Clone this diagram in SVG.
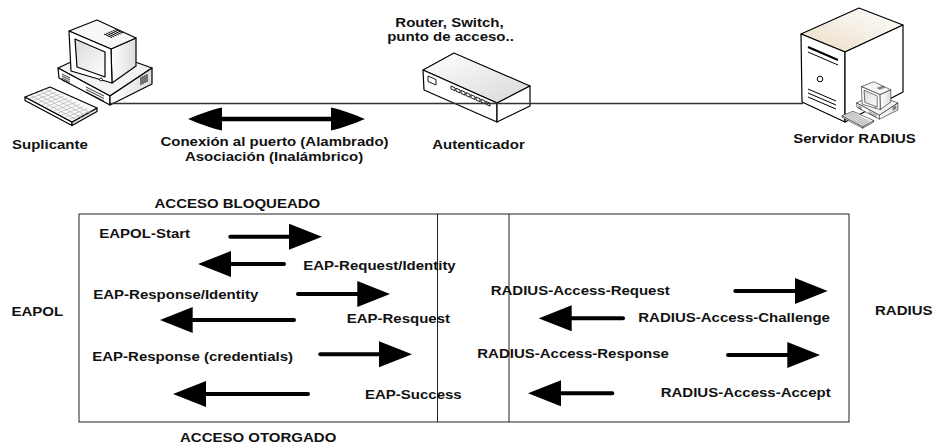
<svg xmlns="http://www.w3.org/2000/svg" width="934" height="445" viewBox="0 0 934 445">
<style>
.lbl{font-family:"Liberation Sans",Arial,Helvetica,sans-serif;font-weight:bold;font-size:12.5px;fill:#111}
.c{text-anchor:middle}
.ink{stroke:#000;stroke-width:1.2;stroke-linejoin:round}
.thin{stroke:#000;stroke-width:0.8;fill:none}
.msg{stroke:#000;stroke-width:4;stroke-linecap:round;fill:none;marker-end:url(#head)}
.frame{fill:none;stroke:#222;stroke-width:1}
.wire{stroke:#333;stroke-width:1.4;fill:none}
</style>
<defs>
  <marker id="head" markerUnits="userSpaceOnUse" markerWidth="33" markerHeight="26" viewBox="0 0 33 26" refX="1" refY="13" orient="auto">
    <path d="M0,0 L33,13 L0,26 Z" fill="#000"/>
  </marker>
  <marker id="ogive" markerUnits="userSpaceOnUse" markerWidth="34" markerHeight="24" viewBox="0 0 34 24" refX="1" refY="12" orient="auto-start-reverse">
    <path d="M0,0.5 C12,3 24,8 34,12 C24,16 12,21 0,23.5 Z" fill="#000"/>
  </marker>
  <linearGradient id="gScreen" x1="0" y1="0" x2="1" y2="1">
    <stop offset="0" stop-color="#d9d9d9"/><stop offset="1" stop-color="#ffffff"/>
  </linearGradient>
  <linearGradient id="gSide" x1="0" y1="0" x2="1" y2="0">
    <stop offset="0" stop-color="#ffffff"/><stop offset="1" stop-color="#dcdcdc"/>
  </linearGradient>
  <linearGradient id="gTop" x1="0" y1="0" x2="1" y2="1">
    <stop offset="0" stop-color="#ffffff"/><stop offset="1" stop-color="#d8d8d8"/>
  </linearGradient>
  <linearGradient id="gBeige" x1="0" y1="1" x2="1" y2="0">
    <stop offset="0" stop-color="#eadcc4"/><stop offset="1" stop-color="#ffffff"/>
  </linearGradient>

  <!-- desktop computer: keyboard, case, CRT monitor -->
  <g id="pc-shape">
    <!-- keyboard -->
    <polygon class="ink" fill="#fff" points="25,97 72,122 72,125.5 25,100.5"/>
    <polygon class="ink" fill="#e4e4e4" points="72,122 97,108 97,111.5 72,125.5"/>
    <polygon class="ink" fill="#fafafa" points="25,97 50,87 97,108 72,122"/>
    <g transform="matrix(3.917,2.083,5,-2,25,97)">
      <path d="M1,0.3V4.7M2,0.3V4.7M3,0.3V4.7M4,0.3V4.7M5,0.3V4.7M6,0.3V4.7M7,0.3V4.7M8,0.3V4.7M9,0.3V4.7M10,0.3V4.7M11,0.3V4.7M0.3,1H11.7M0.3,2H11.7M0.3,3H11.7M0.3,4H11.7" stroke="#b0b0b0" stroke-width="0.7" fill="none" vector-effect="non-scaling-stroke"/>
    </g>
    <!-- system case -->
    <polygon class="ink" fill="#f2f2f2" points="58,68 99,49 152,68 110,96"/>
    <polygon class="ink" fill="#fff" points="58,68 110,96 110,105 59,78"/>
    <polygon class="ink" fill="url(#gSide)" points="110,96 152,68 152,84 110,105"/>
    <path class="thin" d="M62,74l8,4M62,76l8,4M62,78l8,4M62,80l8,4M86,87l18,9M86,89.5l18,9M86,92l18,9"/>
    <path d="M141,77v8M143,76v8M145,75v8M147,74v8" stroke="#000" stroke-width="1"/>
    <!-- monitor -->
    <polygon class="ink" fill="url(#gSide)" points="111,49 136,38 136,66 112,83"/>
    <polygon class="ink" fill="#f7f7f7" points="69,31 97,20 136,38 111,49"/>
    <path d="M104,34l8,3.6M106.2,33.1l8,3.6M108.4,32.2l8,3.6M110.6,31.3l8,3.6M112.8,30.4l8,3.6M115,29.5l8,3.6" stroke="#000" stroke-width="1"/>
    <polygon class="ink" fill="#fff" points="69,31 111,49 112,83 71,71"/>
    <polygon class="ink" fill="url(#gScreen)" stroke-width="1.5" points="75,39 105,52 105,77 77,67"/>
    <circle cx="101" cy="79.5" r="1.4" fill="#fff" stroke="#000" stroke-width="0.8"/>
  </g>
</defs>

<rect width="934" height="445" fill="#fff"/>

<!-- supplicant workstation -->
<g id="suplicante">
  <use href="#pc-shape"/>
  <text class="lbl" transform="translate(12,149) scale(1.2,1)">Suplicante</text>
</g>

<!-- authenticator: switch / access point -->
<g id="autenticador">
  <polygon class="ink" fill="url(#gTop)" points="423,70 454,53 530,86 497,103"/>
  <polygon class="ink" fill="#fff" points="423,70 497,103 497,122 424,90"/>
  <polygon class="ink" fill="#fff" points="497,103 530,86 530,106 497,122"/>
  <polygon fill="#fff" stroke="#000" stroke-width="0.9" points="428,76 436,79.5 436,85 428,81.5"/>
  <g transform="translate(451,86) skewY(23.7)" fill="#fff" stroke="#000" stroke-width="0.8">
    <rect x="0" y="0" width="4" height="3"/><rect x="5" y="0" width="4" height="3"/>
    <rect x="10" y="0" width="4" height="3"/><rect x="15" y="0" width="4" height="3"/>
    <rect x="20" y="0" width="4" height="3"/><rect x="25" y="0" width="4" height="3"/>
    <rect x="30" y="0" width="4" height="3"/><rect x="35" y="0" width="4" height="3"/>
  </g>
  <text class="lbl c" transform="translate(449.5,27) scale(1.2,1)">Router, Switch,</text>
  <text class="lbl c" transform="translate(450.5,40.5) scale(1.2,1)">punto de acceso..</text>
  <text class="lbl c" transform="translate(478.5,148.5) scale(1.2,1)">Autenticador</text>
</g>

<!-- RADIUS server tower with its console -->
<g id="servidor-radius">
  <polygon class="ink" fill="url(#gBeige)" points="801,34 859,8 903,25 845,52"/>
  <polygon class="ink" fill="#fff" points="801,34 845,52 845,122 802,102"/>
  <polygon class="ink" fill="#fff" points="845,52 903,25 903,92 845,122"/>
  <path d="M808,47l30,13" stroke="#000" stroke-width="2"/>
  <path d="M808,52l30,13" stroke="#000" stroke-width="1"/>
  <circle cx="820" cy="79" r="2.8" fill="#fff" stroke="#000" stroke-width="1"/>
  <path d="M808,89l28,12M808,93l28,12M808,97l28,12" stroke="#000" stroke-width="1"/>
  <use href="#pc-shape" transform="translate(831,73) scale(0.44)"/>
  <text class="lbl c" transform="translate(854.5,142.5) scale(1.2,1)">Servidor RADIUS</text>
</g>

<!-- message exchange frame -->
<g id="secuencia">
  <rect class="frame" x="79" y="214" width="770" height="208"/>
  <line class="frame" x1="437.5" y1="214" x2="437.5" y2="422"/>
  <line class="frame" x1="509" y1="214" x2="509" y2="422"/>
  <text class="lbl" transform="translate(154.5,207.5) scale(1.2,1)">ACCESO BLOQUEADO</text>
  <text class="lbl" transform="translate(180,441.5) scale(1.2,1)">ACCESO OTORGADO</text>
  <text class="lbl" transform="translate(11.5,316) scale(1.2,1)">EAPOL</text>
  <text class="lbl" transform="translate(875,315) scale(1.2,1)">RADIUS</text>

  <text class="lbl" transform="translate(99.3,238.3) scale(1.2,1)">EAPOL-Start</text>
  <text class="lbl" transform="translate(303.3,270) scale(1.2,1)">EAP-Request/Identity</text>
  <text class="lbl" transform="translate(93.3,299.3) scale(1.2,1)">EAP-Response/Identity</text>
  <text class="lbl" transform="translate(346.7,323) scale(1.2,1)">EAP-Resquest</text>
  <text class="lbl" transform="translate(92.3,360.7) scale(1.2,1)">EAP-Response (credentials)</text>
  <text class="lbl" transform="translate(365,399) scale(1.2,1)">EAP-Success</text>

  <text class="lbl" transform="translate(490.7,295) scale(1.2,1)">RADIUS-Access-Request</text>
  <text class="lbl" transform="translate(638.3,322) scale(1.2,1)">RADIUS-Access-Challenge</text>
  <text class="lbl" transform="translate(477.3,358) scale(1.2,1)">RADIUS-Access-Response</text>
  <text class="lbl" transform="translate(660.7,396.7) scale(1.2,1)">RADIUS-Access-Accept</text>
</g>

<!-- connectors -->
<g id="conectores">
  <line class="wire" x1="110" y1="103.5" x2="803" y2="103.5"/>
  <line x1="221" y1="119" x2="332" y2="119" stroke="#000" stroke-width="4.5" marker-start="url(#ogive)" marker-end="url(#ogive)"/>
  <text class="lbl c" transform="translate(274.5,146) scale(1.2,1)">Conexión al puerto (Alambrado)</text>
  <text class="lbl c" transform="translate(274,161) scale(1.2,1)">Asociación (Inalámbrico)</text>

  <line class="msg" x1="230.3" y1="236.7" x2="290" y2="236.7"/>
  <line class="msg" x1="284" y1="264" x2="230" y2="264"/>
  <line class="msg" x1="298" y1="294" x2="358.3" y2="294"/>
  <line class="msg" x1="294" y1="320" x2="191.7" y2="320"/>
  <line class="msg" x1="320.3" y1="354.3" x2="380" y2="354.3"/>
  <line class="msg" x1="308" y1="394" x2="205" y2="394"/>
  <line class="msg" x1="735.3" y1="291" x2="795.7" y2="291"/>
  <line class="msg" x1="623" y1="318.3" x2="570.7" y2="318.3"/>
  <line class="msg" x1="728" y1="355" x2="788.3" y2="355"/>
  <line class="msg" x1="612.3" y1="393.3" x2="560" y2="393.3"/>
</g>
</svg>
